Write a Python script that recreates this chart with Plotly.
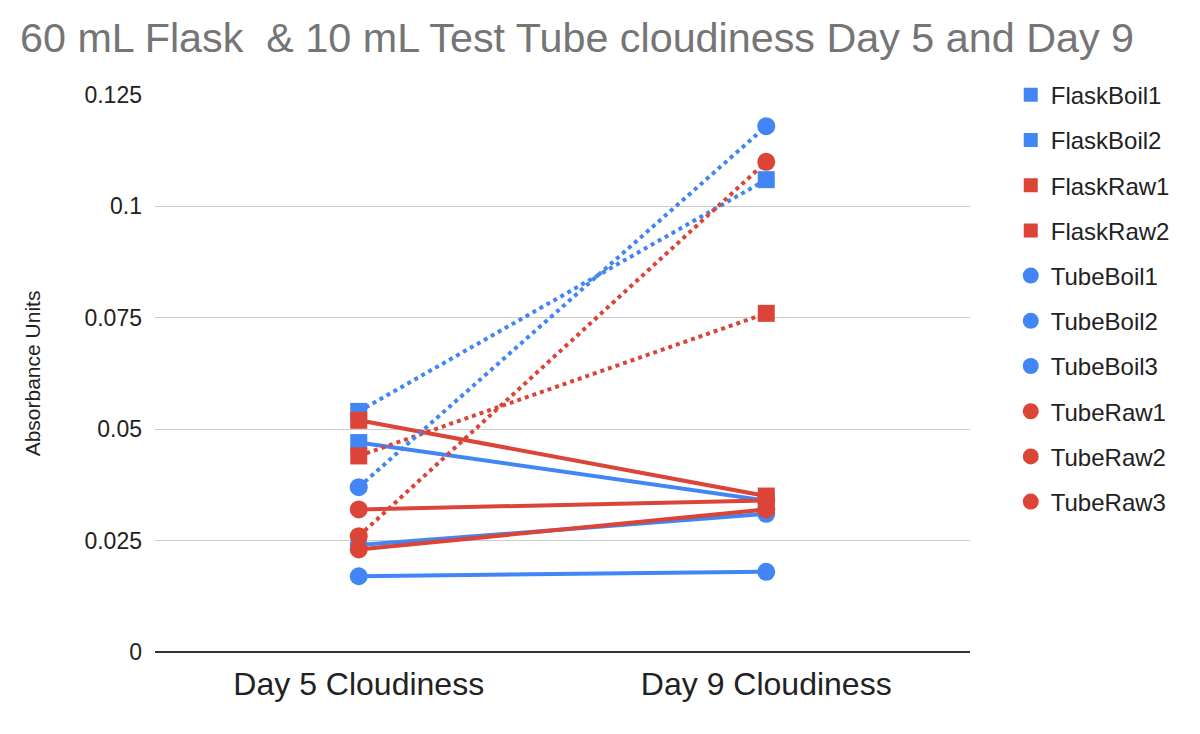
import plotly.graph_objects as go

categories = ["Day 5 Cloudiness", "Day 9 Cloudiness"]
series_names = ["FlaskBoil1", "FlaskBoil2", "FlaskRaw1", "FlaskRaw2",
                "TubeBoil1", "TubeBoil2", "TubeBoil3",
                "TubeRaw1", "TubeRaw2", "TubeRaw3"]
flask_boil1 = [0.054, 0.106]
flask_boil2 = [0.047, 0.034]
flask_raw1 = [0.052, 0.035]
flask_raw2 = [0.044, 0.076]
tube_boil1 = [0.037, 0.118]
tube_boil2 = [0.024, 0.031]
tube_boil3 = [0.017, 0.018]
tube_raw1 = [0.026, 0.110]
tube_raw2 = [0.032, 0.034]
tube_raw3 = [0.023, 0.032]
y_ticks = [0, 0.025, 0.05, 0.075, 0.1, 0.125]
y_tick_labels = ["0", "0.025", "0.05", "0.075", "0.1", "0.125"]

values = [flask_boil1, flask_boil2, flask_raw1, flask_raw2,
          tube_boil1, tube_boil2, tube_boil3,
          tube_raw1, tube_raw2, tube_raw3]

BLUE = "#4285F4"
RED = "#DB4437"
styles = [
    (BLUE, "square", "dot"), (BLUE, "square", "solid"),
    (RED, "square", "solid"), (RED, "square", "dot"),
    (BLUE, "circle", "dot"), (BLUE, "circle", "solid"), (BLUE, "circle", "solid"),
    (RED, "circle", "dot"), (RED, "circle", "solid"), (RED, "circle", "solid"),
]

fig = go.Figure()
for name, vals, (col, sym, dash) in zip(series_names, values, styles):
    fig.add_trace(go.Scatter(
        x=categories, y=vals, mode="lines+markers", name=name,
        line=dict(color=col, width=4, dash=dash),
        marker=dict(color=col, symbol=sym, size=18 if sym == "circle" else 17),
        showlegend=False,
    ))
for name, (col, sym, dash) in zip(series_names, styles):
    fig.add_trace(go.Scatter(
        x=[None], y=[None], mode="markers", name=name, legendgroup=name,
        marker=dict(color=col, symbol=sym, size=16 if sym == "circle" else 14),
    ))

fig.update_layout(
    width=1200, height=734,
    margin=dict(l=155, r=230, t=95, b=82),
    paper_bgcolor="white", plot_bgcolor="white",
    font=dict(family="Liberation Sans, Arial, sans-serif", color="#222222"),
    title=dict(text="60 mL Flask  &amp; 10 mL Test Tube cloudiness Day 5 and Day 9",
               x=20/1200, xref="container", xanchor="left",
               y=1 - 38/734, yref="container", yanchor="middle",
               font=dict(size=41.3, color="#757575")),
    xaxis=dict(type="category", range=[-0.5, 1.5], showgrid=False,
               tickfont=dict(size=32, color="#222222"), ticks="",
               ticklabelstandoff=10,
               showline=False, zeroline=False),
    yaxis=dict(range=[0, 0.125], tickvals=y_ticks, ticktext=y_tick_labels,
               showgrid=True, gridcolor="#cccccc", gridwidth=1,
               tickfont=dict(size=23, color="#222222"), ticks="",
               ticklabelstandoff=12,
               zeroline=True, zerolinecolor="#333333", zerolinewidth=2,
               title=dict(text="Absorbance Units", font=dict(size=21, color="#222222"),
                          standoff=38)),
    legend=dict(x=1.05, xanchor="left", y=1.04, yanchor="top",
                font=dict(size=24, color="#222222"), tracegroupgap=11,
                itemsizing="trace", maxheight=640),
)

fig.write_html("out.html")
